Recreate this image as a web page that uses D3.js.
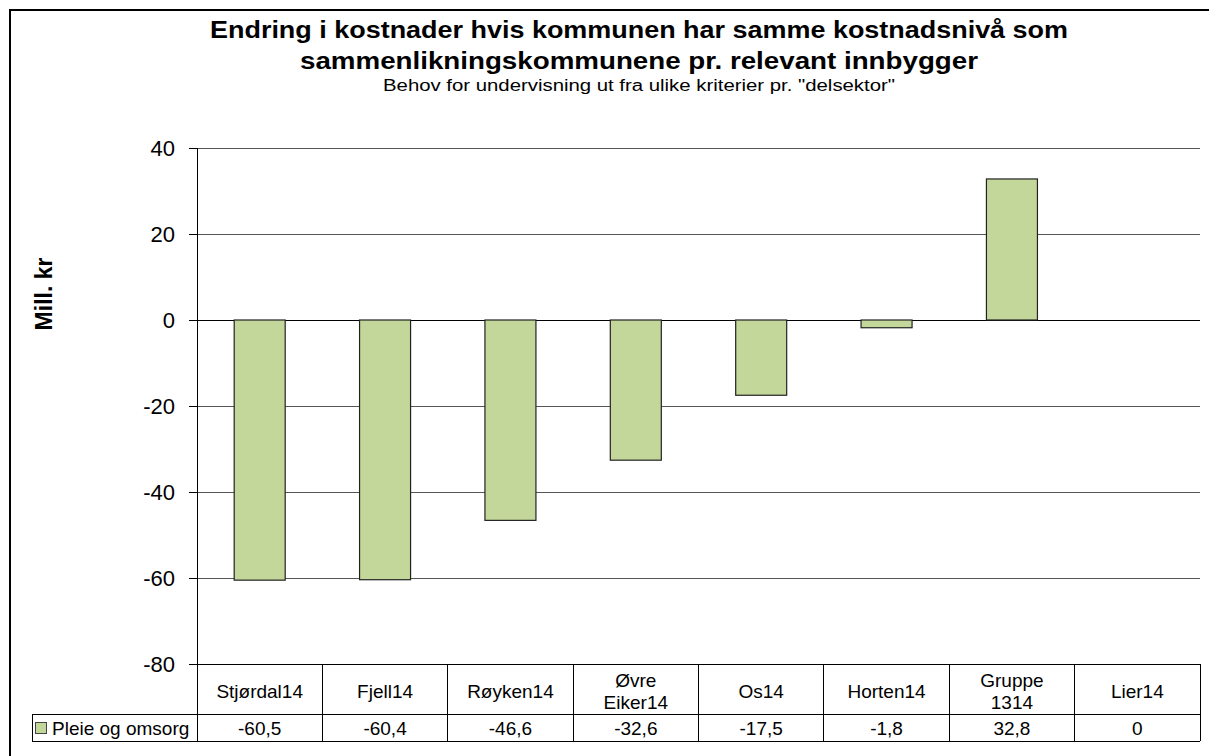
<!DOCTYPE html>
<html><head><meta charset="utf-8">
<script src="https://cdn.jsdelivr.net/npm/d3@7/dist/d3.min.js"></script>
<style>body{margin:0;background:#fff}svg{display:block}svg text{font-family:"Liberation Sans",Arimo,sans-serif}</style>
</head><body>
<script>
const categories = [["Stjørdal14"],["Fjell14"],["Røyken14"],["Øvre","Eiker14"],["Os14"],["Horten14"],["Gruppe","1314"],["Lier14"]];
const values = [-60.5,-60.4,-46.6,-32.6,-17.5,-1.8,32.8,0];
const valueLabels = ["-60,5","-60,4","-46,6","-32,6","-17,5","-1,8","32,8","0"];
const seriesName = "Pleie og omsorg";
const yTicks = [40,20,0,-20,-40,-60,-80];
const titleLines = ["Endring i kostnader hvis kommunen har samme kostnadsnivå som","sammenlikningskommunene pr. relevant innbygger"];
const subtitle = 'Behov for undervisning ut fra ulike kriterier pr. "delsektor"';

(function(){
const W=1209,H=756;
const svg=d3.select("body").append("svg").attr("width",W).attr("height",H);
svg.append("rect").attr("x",10).attr("y",10).attr("width",1205).attr("height",760).attr("fill","none").attr("stroke","#000").attr("stroke-width",2);

const pLeft=197,pRight=1200,pTop=148,pBottom=664;
const y=d3.scaleLinear().domain([-80,40]).range([pBottom,pTop]);
const x=d3.scaleBand().domain(d3.range(categories.length)).range([pLeft,pRight]).paddingInner(0).paddingOuter(0);

const titleW=[858,678];
titleLines.forEach((t,i)=>svg.append("text").attr("x",639).attr("y",38+i*31).attr("text-anchor","middle")
  .attr("font-size",23).attr("font-weight","bold")
  .attr("textLength",titleW[i]).attr("lengthAdjust","spacingAndGlyphs").text(t));
svg.append("text").attr("x",639).attr("y",91).attr("text-anchor","middle").attr("font-size",16)
  .attr("textLength",512).attr("lengthAdjust","spacingAndGlyphs").text(subtitle);

svg.append("g").selectAll("line").data(yTicks).join("line")
  .attr("x1",pLeft).attr("x2",pRight).attr("y1",d=>y(d)).attr("y2",d=>y(d))
  .attr("stroke",d=>d===0?"#000":"#555").attr("stroke-width",1).attr("shape-rendering","crispEdges");

const ya=svg.append("g").attr("transform",`translate(${pLeft},0)`)
  .call(d3.axisLeft(y).tickValues(yTicks).tickSize(8).tickPadding(14).tickFormat(d=>String(d)));
ya.select(".domain").attr("stroke","#000").attr("shape-rendering","crispEdges");
ya.selectAll(".tick line").attr("stroke","#000").attr("shape-rendering","crispEdges");
ya.selectAll("text").attr("font-size",22).attr("fill","#000").attr("font-family",null);

svg.append("text").attr("transform","translate(52,294) rotate(-90)").attr("text-anchor","middle")
  .attr("font-size",23).attr("font-weight","bold").text("Mill. kr");

const bw=51;
svg.append("g").selectAll("rect").data(values).join("rect")
  .attr("x",(d,i)=>x(i)+x.bandwidth()/2-bw/2)
  .attr("width",bw)
  .attr("y",d=>y(Math.max(0,d)))
  .attr("height",d=>Math.abs(y(d)-y(0)))
  .attr("fill","#c4d79b").attr("stroke","#222").attr("stroke-width",1.2)
  .style("display",d=>d===0?"none":null);

const rowTop=pBottom, rowMid=714, rowBot=741, legLeft=32;
const tg=svg.append("g").attr("stroke","#000").attr("stroke-width",1).attr("shape-rendering","crispEdges");
tg.append("line").attr("x1",pLeft).attr("x2",pRight).attr("y1",rowTop).attr("y2",rowTop);
tg.append("line").attr("x1",legLeft).attr("x2",pRight).attr("y1",rowMid).attr("y2",rowMid);
tg.append("line").attr("x1",legLeft).attr("x2",pRight).attr("y1",rowBot).attr("y2",rowBot);
tg.append("line").attr("x1",legLeft).attr("x2",legLeft).attr("y1",rowMid).attr("y2",rowBot);
tg.selectAll("line.v").data(d3.range(categories.length+1)).join("line").attr("class","v")
  .attr("x1",i=>i<categories.length?x(i):pRight).attr("x2",i=>i<categories.length?x(i):pRight)
  .attr("y1",rowTop).attr("y2",rowBot);

const cg=svg.append("g");
categories.forEach((c,i)=>{
  const cx=x(i)+x.bandwidth()/2;
  const n=c.length;
  c.forEach((line,j)=>{
    cg.append("text").attr("x",cx).attr("y",698+(j-(n-1)/2)*22)
      .attr("text-anchor","middle").attr("font-size",19).text(line);
  });
  cg.append("text").attr("x",cx).attr("y",735).attr("text-anchor","middle")
    .attr("font-size",19).text(valueLabels[i]);
});
svg.append("rect").attr("x",35.5).attr("y",722.5).attr("width",11).attr("height",11)
  .attr("fill","#c4d79b").attr("stroke","#444");
svg.append("text").attr("x",52).attr("y",735).attr("font-size",19).text(seriesName);
})();
</script>
</body></html>
